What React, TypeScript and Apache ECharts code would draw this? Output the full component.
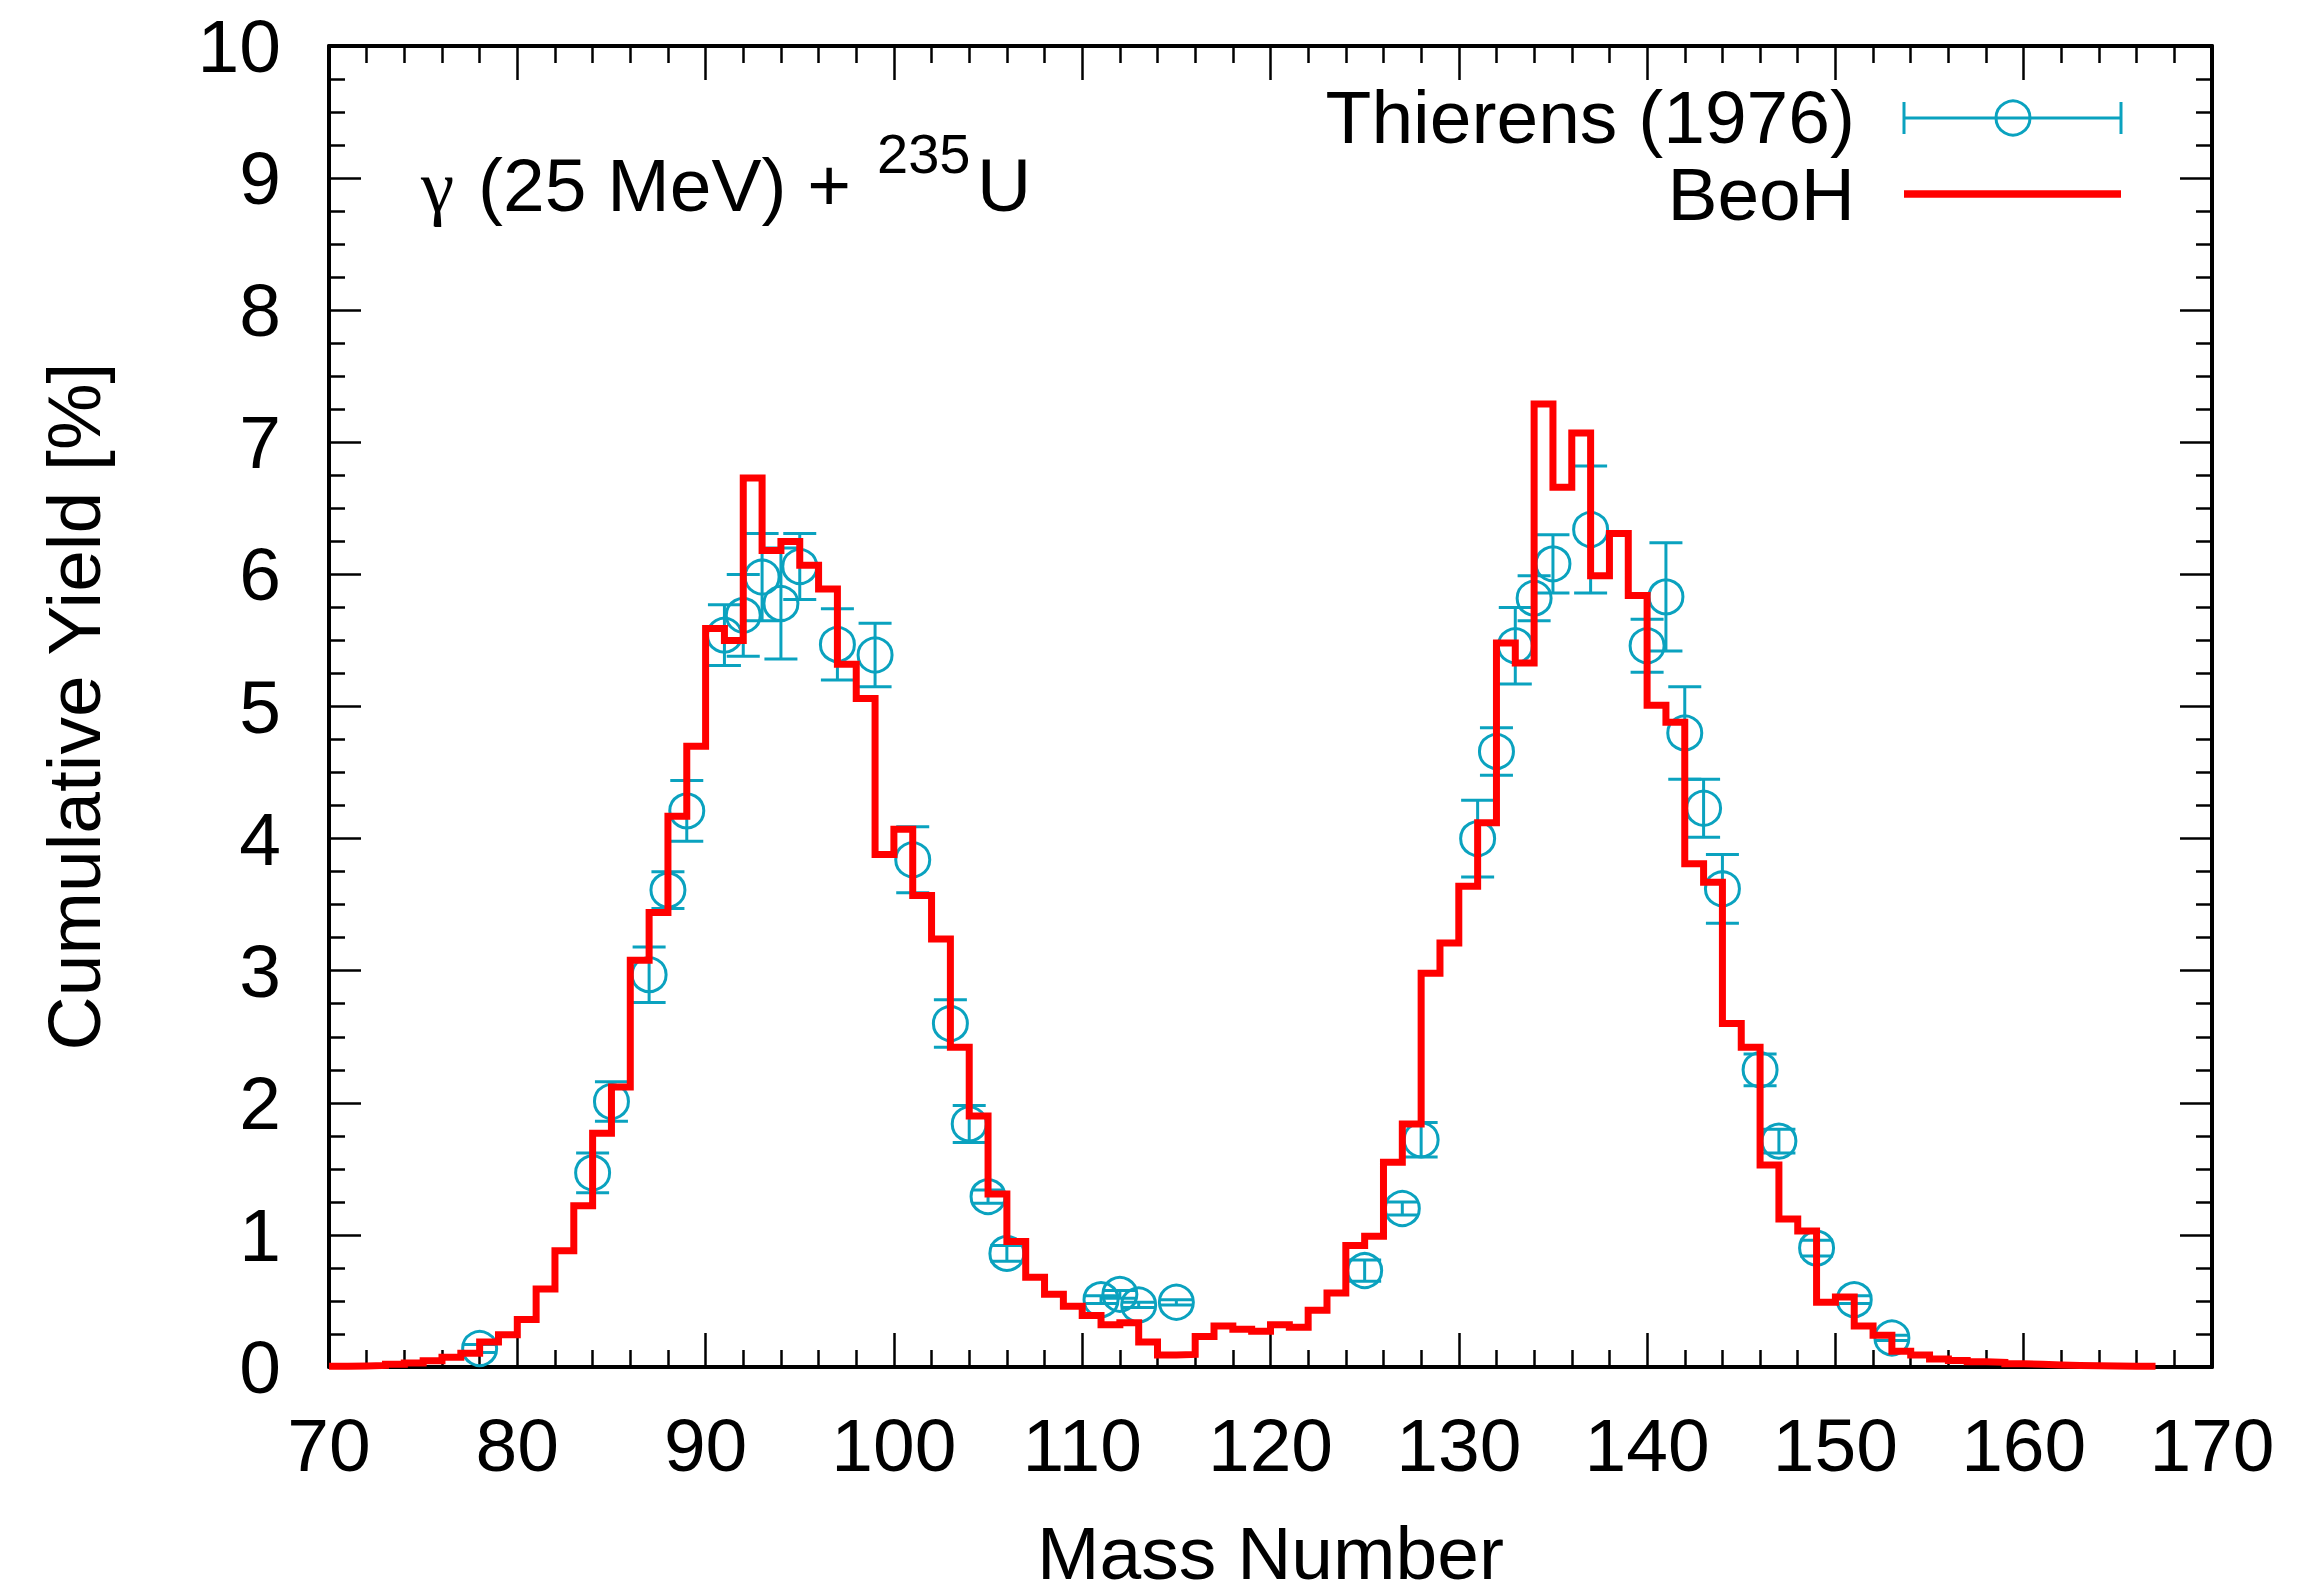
import React, { useEffect, useRef } from "react";
import * as echarts from "echarts";

// ---------- data ----------
// BeoH histogram: bin [A, A+1] holds the cumulative yield of mass A (%)
const beohMass = [
  70, 71, 72, 73, 74, 75, 76, 77, 78, 79, 80, 81, 82, 83, 84, 85, 86, 87, 88, 89,
  90, 91, 92, 93, 94, 95, 96, 97, 98, 99, 100, 101, 102, 103, 104, 105, 106, 107, 108, 109,
  110, 111, 112, 113, 114, 115, 116, 117, 118, 119, 120, 121, 122, 123, 124, 125, 126, 127, 128, 129,
  130, 131, 132, 133, 134, 135, 136, 137, 138, 139, 140, 141, 142, 143, 144, 145, 146, 147, 148, 149,
  150, 151, 152, 153, 154, 155, 156, 157, 158, 159, 160, 161, 162, 163, 164, 165, 166,
];
const beohYield = [
  0.005, 0.008, 0.012, 0.02, 0.03, 0.047, 0.074, 0.105, 0.19, 0.245, 0.36, 0.59, 0.88, 1.22, 1.77, 2.12, 3.08, 3.44, 4.17, 4.7,
  5.59, 5.5, 6.73, 6.18, 6.25, 6.07, 5.89, 5.32, 5.06, 3.88, 4.07, 3.57, 3.24, 2.42, 1.9, 1.31, 0.95, 0.68, 0.55, 0.46,
  0.39, 0.32, 0.335, 0.19, 0.09, 0.095, 0.23, 0.31, 0.285, 0.27, 0.32, 0.3, 0.43, 0.56, 0.92, 0.99, 1.55, 1.84, 2.98, 3.21,
  3.64, 4.12, 5.48, 5.33, 7.29, 6.66, 7.07, 5.99, 6.31, 5.84, 5.01, 4.88, 3.81, 3.67, 2.6, 2.42, 1.53, 1.12, 1.03, 0.49,
  0.53, 0.31, 0.24, 0.12, 0.09, 0.06, 0.05, 0.04, 0.035, 0.025, 0.02, 0.015, 0.012, 0.01, 0.008, 0.006, 0.005,
];

// Thierens (1976) measurements
const expMass = [
  78, 84, 85, 87, 88, 89, 91, 92, 93, 94, 95, 97, 99, 101, 103, 104, 105, 106,
  111, 112, 113, 115, 125, 127, 128, 131, 132, 133, 134, 135, 137, 140, 141, 142,
  143, 144, 146, 147, 149, 151, 153,
];
const expYield = [
  0.14, 1.47, 2.01, 2.97, 3.61, 4.21, 5.54, 5.69, 5.98, 5.78, 6.06, 5.47, 5.39, 3.84, 2.6, 1.84, 1.29, 0.86,
  0.51, 0.55, 0.47, 0.49, 0.73, 1.2, 1.72, 4.0, 4.66, 5.46, 5.82, 6.08, 6.34, 5.46, 5.83, 4.8,
  4.23, 3.62, 2.25, 1.71, 0.9, 0.51, 0.22,
];
const expError = [
  0.03, 0.15, 0.15, 0.21, 0.14, 0.23, 0.23, 0.31, 0.33, 0.42, 0.25, 0.27, 0.24, 0.25, 0.18, 0.14, 0.05, 0.06,
  0.03, 0.03, 0.02, 0.02, 0.08, 0.05, 0.13, 0.29, 0.18, 0.29, 0.17, 0.22, 0.48, 0.2, 0.41, 0.35,
  0.22, 0.26, 0.12, 0.09, 0.06, 0.03, 0.02,
];

const xTickLabels = ["70", "80", "90", "100", "110", "120", "130", "140", "150", "160", "170"];

// ---------- style ----------
const TEAL = "#0aa2bf";
const RED = "#ff0000";
const FONT = "'Liberation Sans', Arial, Helvetica, sans-serif";
const SERIF = "'Liberation Serif', 'DejaVu Serif', serif";
const FS = 75;

export default function App() {
  const ref = useRef<HTMLDivElement>(null);

  useEffect(() => {
    if (!ref.current) return;
    const chart = echarts.init(ref.current, undefined, { renderer: "svg" });

    const stepData: number[][] = [];
    beohMass.forEach((a, i) => {
      stepData.push([a, beohYield[i]]);
      stepData.push([a + 1, beohYield[i]]);
    });
    const expData = expMass.map((a, i) => [a, expYield[i], expError[i]]);

    const axisLine = { show: true, onZero: false, lineStyle: { color: "#000", width: 4 } };
    const tickStyle = { color: "#000", width: 2.5 };

    const xBase = (pos: string, labels: boolean) => ({
      type: "value",
      position: pos,
      min: 70,
      max: 170,
      interval: 10,
      axisLine,
      axisTick: { show: true, inside: true, length: 34, lineStyle: tickStyle },
      minorTick: { show: true, splitNumber: 5, length: 17, lineStyle: tickStyle },
      splitLine: { show: false },
      minorSplitLine: { show: false },
      axisLabel: {
        show: labels,
        margin: 40,
        fontSize: FS,
        fontFamily: FONT,
        color: "#000",
        showMinLabel: true,
        showMaxLabel: true,
        formatter: (v: number) => xTickLabels[Math.round((v - 70) / 10)] ?? String(v),
      },
    });
    const yBase = (pos: string, labels: boolean) => ({
      type: "value",
      position: pos,
      min: 0,
      max: 10,
      interval: 1,
      axisLine,
      axisTick: { show: true, inside: true, length: 32, lineStyle: tickStyle },
      minorTick: { show: true, splitNumber: 4, length: 16, lineStyle: tickStyle },
      splitLine: { show: false },
      minorSplitLine: { show: false },
      axisLabel: {
        show: labels,
        margin: 48,
        fontSize: FS,
        fontFamily: FONT,
        color: "#000",
        showMinLabel: true,
        showMaxLabel: true,
      },
    });

    const txt = (text: string, x: number, y: number, size: number, align: string, family: string = FONT) => ({
      type: "text",
      x,
      y,
      style: {
        text,
        font: `${size}px ${family}`,
        fill: "#000",
        textAlign: align,
        textVerticalAlign: "middle",
        align,
        verticalAlign: "middle",
      },
    });
    const seg = (x1: number, y1: number, x2: number, y2: number, color: string, w: number) => ({
      type: "line",
      shape: { x1, y1, x2, y2 },
      style: { stroke: color, lineWidth: w, fill: "none" },
    });

    const option: any = {
      animation: false,
      backgroundColor: "#fff",
      grid: { left: 329, top: 46, width: 1883, height: 1323, containLabel: false },
      xAxis: [
        {
          ...xBase("bottom", true),
          name: "Mass Number",
          nameLocation: "middle",
          nameGap: 148,
          nameTextStyle: { fontSize: FS, fontFamily: FONT, color: "#000" },
        },
        xBase("top", false),
      ],
      yAxis: [
        {
          ...yBase("left", true),
          name: "Cumulative Yield [%]",
          nameLocation: "middle",
          nameGap: 218,
          nameTextStyle: { fontSize: FS, fontFamily: FONT, color: "#000" },
        },
        yBase("right", false),
      ],
      series: [
        {
          name: "Thierens (1976)",
          type: "custom",
          xAxisIndex: 0,
          yAxisIndex: 0,
          data: expData,
          encode: { x: 0, y: 1 },
          z: 2,
          renderItem: (params: any, api: any) => {
            const a = api.value(0);
            const v = api.value(1);
            const e = api.value(2);
            const c = api.coord([a, v]);
            const hi = api.coord([a, v + e]);
            const lo = api.coord([a, v - e]);
            const hw = 16.5;
            const st = () => ({ stroke: TEAL, lineWidth: 3, fill: "none" });
            return {
              type: "group",
              children: [
                { type: "line", shape: { x1: c[0], y1: hi[1], x2: c[0], y2: lo[1] }, style: st() },
                { type: "line", shape: { x1: c[0] - hw, y1: hi[1], x2: c[0] + hw, y2: hi[1] }, style: st() },
                { type: "line", shape: { x1: c[0] - hw, y1: lo[1], x2: c[0] + hw, y2: lo[1] }, style: st() },
                { type: "circle", shape: { cx: c[0], cy: c[1], r: 17 }, style: st() },
              ],
            };
          },
        },
        {
          name: "BeoH",
          type: "line",
          xAxisIndex: 0,
          yAxisIndex: 0,
          data: stepData,
          symbol: "none",
          showSymbol: false,
          clip: true,
          z: 5,
          lineStyle: { color: RED, width: 7, join: "miter", cap: "butt" },
        },
      ],
      graphic: [
        // annotation
        txt("\u03b3", 421, 185, FS, "left", SERIF),
        txt("(25 MeV) + ", 478, 185, FS, "left"),
        txt("235", 877, 153, 56, "left"),
        txt("U", 977, 185, FS, "left"),
        // legend
        txt("Thierens (1976)", 1855, 117, FS, "right"),
        seg(1904, 118, 2121, 118, TEAL, 3),
        seg(1904, 102, 1904, 134, TEAL, 3),
        seg(2121, 102, 2121, 134, TEAL, 3),
        {
          type: "circle",
          shape: { cx: 2013, cy: 118, r: 17 },
          style: { stroke: TEAL, lineWidth: 3, fill: "none" },
        },
        txt("BeoH", 1855, 194, FS, "right"),
        seg(1904, 194, 2121, 194, RED, 7.5),
      ],
    };

    chart.setOption(option);
    return () => chart.dispose();
  }, []);

  return (
    <div
      ref={ref}
      style={{ position: "absolute", left: 0, top: 0, width: 2300, height: 1595, background: "#fff" }}
    />
  );
}
